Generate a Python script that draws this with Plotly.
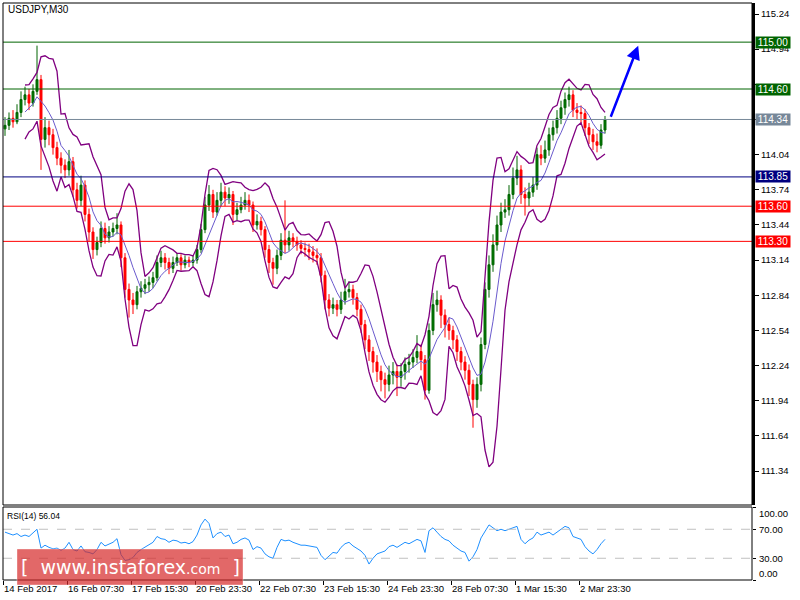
import plotly.graph_objects as go
import pandas as pd

# ---------------- data ----------------
symbol_title = "USDJPY,M30"
first_open = 114.26
closes = [114.29, 114.35, 114.32, 114.40, 114.51, 114.55, 114.48, 114.58, 114.68, 114.17,
          114.27, 114.21, 114.10, 114.01, 113.95, 113.91, 113.98, 113.74, 113.65, 113.78,
          113.53, 113.38, 113.23, 113.29, 113.41, 113.33, 113.38, 113.41, 113.44, 113.16,
          112.89, 112.80, 112.76, 112.87, 112.90, 112.93, 112.95, 112.99, 113.12, 113.16,
          113.12, 113.07, 113.12, 113.16, 113.10, 113.14, 113.12, 113.14, 113.23, 113.40,
          113.61, 113.70, 113.55, 113.65, 113.72, 113.67, 113.70, 113.53, 113.57, 113.61,
          113.65, 113.61, 113.44, 113.47, 113.40, 113.23, 113.12, 113.07, 113.18, 113.31,
          113.27, 113.33, 113.30, 113.27, 113.24, 113.23, 113.21, 113.18, 113.16, 113.01,
          112.80, 112.73, 112.76, 112.72, 112.80, 112.87, 112.89, 112.82, 112.72, 112.59,
          112.46, 112.36, 112.27, 112.19, 112.12, 112.08, 112.16, 112.19, 112.14, 112.19,
          112.25, 112.27, 112.31, 112.36, 112.29, 112.03, 112.54, 112.76, 112.80, 112.67,
          112.59, 112.54, 112.46, 112.36, 112.27, 112.20, 112.08, 111.95, 112.08, 112.42,
          112.89, 113.10, 113.27, 113.44, 113.55, 113.57, 113.70, 113.84, 113.91, 113.70,
          113.67, 113.72, 113.78, 114.04, 114.01, 114.08, 114.21, 114.27, 114.35, 114.44,
          114.51, 114.55, 114.42, 114.40, 114.39, 114.27, 114.21, 114.15, 114.12, 114.25,
          114.34]
highs = [114.36, 114.40, 114.42, 114.47, 114.58, 114.62, 114.60, 114.64, 114.97, 114.72,
         114.36, 114.33, 114.26, 114.15, 114.06, 114.00, 114.08, 114.02, 113.80, 113.86,
         113.82, 113.58, 113.42, 113.34, 113.47, 113.46, 113.43, 113.46, 113.54, 113.47,
         113.20, 112.94, 112.86, 112.92, 112.96, 112.98, 113.00, 113.04, 113.18, 113.22,
         113.20, 113.16, 113.17, 113.20, 113.19, 113.18, 113.17, 113.18, 113.27, 113.45,
         113.68, 113.78, 113.74, 113.72, 113.80, 113.77, 113.76, 113.73, 113.63, 113.68,
         113.72, 113.70, 113.64, 113.53, 113.51, 113.43, 113.27, 113.16, 113.23, 113.37,
         113.65, 113.39, 113.37, 113.34, 113.31, 113.29, 113.28, 113.26, 113.24, 113.20,
         113.05, 112.85, 112.82, 112.80, 112.87, 112.98, 112.96, 112.93, 112.86, 112.76,
         112.63, 112.50, 112.40, 112.33, 112.24, 112.18, 112.24, 112.27, 112.25, 112.26,
         112.31, 112.34, 112.38, 112.50, 112.42, 112.33, 112.60, 112.86, 112.88, 112.84,
         112.72, 112.65, 112.58, 112.50, 112.40, 112.32, 112.25, 112.12, 112.14, 112.48,
         112.95, 113.18, 113.36, 113.52, 113.63, 113.66, 113.78, 113.93, 114.03, 113.95,
         113.76, 113.80, 113.85, 114.10, 114.12, 114.16, 114.27, 114.33, 114.42, 114.50,
         114.57, 114.62, 114.59, 114.48, 114.46, 114.43, 114.31, 114.26, 114.22, 114.30,
         114.37]
lows = [114.20, 114.25, 114.27, 114.30, 114.36, 114.46, 114.42, 114.45, 114.55, 113.91,
        114.10, 114.12, 114.04, 113.95, 113.88, 113.84, 113.86, 113.68, 113.58, 113.60,
        113.47, 113.30, 113.15, 113.18, 113.25, 113.28, 113.29, 113.34, 113.36, 113.08,
        112.82, 112.65, 112.68, 112.72, 112.82, 112.85, 112.87, 112.90, 112.96, 113.08,
        113.06, 113.02, 113.03, 113.09, 113.05, 113.07, 113.08, 113.09, 113.11, 113.20,
        113.37, 113.56, 113.50, 113.52, 113.60, 113.60, 113.62, 113.44, 113.48, 113.54,
        113.57, 113.55, 113.38, 113.40, 113.35, 113.16, 113.03, 112.93, 113.02, 113.14,
        113.20, 113.22, 113.25, 113.22, 113.19, 113.17, 113.14, 113.12, 113.10, 112.95,
        112.72, 112.66, 112.68, 112.66, 112.68, 112.76, 112.82, 112.76, 112.66, 112.52,
        112.38, 112.28, 112.18, 112.10, 112.02, 111.96, 112.02, 112.08, 111.98, 112.06,
        112.12, 112.18, 112.22, 112.26, 112.20, 111.95, 112.00, 112.50, 112.70, 112.56,
        112.48, 112.46, 112.38, 112.28, 112.20, 112.12, 111.98, 111.71, 111.88, 112.02,
        112.38, 112.82, 113.04, 113.22, 113.38, 113.50, 113.52, 113.66, 113.78, 113.62,
        113.52, 113.60, 113.68, 113.74, 113.95, 113.97, 114.03, 114.16, 114.22, 114.30,
        114.38, 114.45, 114.36, 114.34, 114.31, 114.20, 114.13, 114.08, 114.06, 114.09,
        114.22]
rsi_values = [66, 64, 62, 64, 60, 62, 60, 65, 70, 44,
              48, 45, 43, 44, 41, 44, 52, 42, 40, 47,
              39, 38, 36, 42, 52, 47, 50, 52, 57, 35,
              27, 28, 31, 38, 42, 45, 48, 52, 60, 57,
              56, 52, 55, 54, 51, 52, 50, 53, 62, 76,
              84, 78, 58, 64, 66, 60, 62, 50, 52, 56,
              58, 55, 42, 46, 44, 36, 32, 30, 45, 56,
              54, 55, 52, 50, 48, 48, 47, 46, 45, 34,
              28, 33, 38, 37, 45, 50, 52, 47, 44, 40,
              34, 22, 30, 36, 38, 40, 46, 48, 45, 48,
              52, 50, 53, 56, 54, 38, 68, 72, 66, 60,
              56, 54, 48, 44, 40, 38, 26, 32, 42, 58,
              68, 76, 72, 68, 70, 68, 70, 72, 74, 56,
              50, 55, 58, 66, 62, 64, 66, 62, 66, 70,
              74, 72, 60, 58, 56, 46, 40, 36, 42, 50,
              56.04]

levels = [115.00, 114.60, 114.34, 113.85, 113.60, 113.30]
level_colors = ["#006400", "#006400", "#778899", "#000080", "#ff0000", "#ff0000"]
price_ticks = [115.24, 114.94, 114.64, 114.34, 114.04, 113.74, 113.44, 113.14,
               112.84, 112.54, 112.24, 111.94, 111.64, 111.34]
rsi_ticks = [100, 70, 30, 0]
time_labels = ["14 Feb 2017", "16 Feb 07:30", "17 Feb 15:30", "20 Feb 23:30", "22 Feb 07:30",
               "23 Feb 15:30", "24 Feb 23:30", "28 Feb 07:30", "1 Mar 15:30", "2 Mar 23:30"]
time_label_bars = [-0.5, 15.5, 31.5, 47.5, 63.5, 79.5, 95.5, 111.5, 127.5, 143.5]
arrow_start = (151.3, 114.35)
arrow_end = (158.3, 114.97)
bb_period = 6
bb_dev = 2.4

# ---------------- derived ----------------
bars = list(range(len(closes)))
opens = [first_open] + closes[:-1]
s = pd.Series(closes)
bb_mid = s.rolling(bb_period).mean()
bb_sd = s.rolling(bb_period).std(ddof=0)
bb_up = bb_mid + bb_dev * bb_sd
bb_lo = bb_mid - bb_dev * bb_sd

# tick labels that sit completely under a level price box are hidden (as in the original)
price_ticktext = [("" if any(abs(v - lv) < 0.045 for lv in levels) else f"{v:.2f}") for v in price_ticks]

W, H = 800, 600
def px(xp):
    return xp / W
def py(yp):
    return 1 - yp / H

X_LEFT, X_RIGHT = 3, 752
MAIN_TOP, MAIN_BOT = 3, 505
RSI_TOP, RSI_BOT = 507.5, 580

FONT = "Liberation Sans, Arial, sans-serif"

fig = go.Figure()

fig.add_trace(go.Scatter(x=bars, y=bb_up, mode="lines", line=dict(color="#800080", width=1.3),
                         hoverinfo="skip", xaxis="x", yaxis="y"))
fig.add_trace(go.Scatter(x=bars, y=bb_lo, mode="lines", line=dict(color="#800080", width=1.3),
                         hoverinfo="skip", xaxis="x", yaxis="y"))
fig.add_trace(go.Candlestick(x=bars, open=opens, high=highs, low=lows, close=closes,
                             increasing=dict(line=dict(color="#006400", width=1), fillcolor="#007a00"),
                             decreasing=dict(line=dict(color="#ff0000", width=1), fillcolor="#ff0000"),
                             whiskerwidth=0, xaxis="x", yaxis="y"))
fig.add_trace(go.Scatter(x=bars, y=bb_mid, mode="lines", line=dict(color="#6a5acd", width=1),
                         hoverinfo="skip", xaxis="x", yaxis="y"))

fig.add_trace(go.Scatter(x=bars, y=rsi_values, mode="lines", line=dict(color="#1e90ff", width=1),
                         hoverinfo="skip", xaxis="x2", yaxis="y2"))

shapes = []
annotations = []

# level lines + price labels
for lv, col in zip(levels, level_colors):
    shapes.append(dict(type="line", xref="paper", yref="y", x0=px(X_LEFT), x1=px(X_RIGHT),
                       y0=lv, y1=lv, line=dict(color=col, width=1)))
    annotations.append(dict(xref="paper", yref="y", x=px(755), y=lv, xanchor="left", yanchor="middle",
                            text=f"{lv:.2f}", showarrow=False, bgcolor=col, borderpad=0,
                            width=34, height=11, align="center",
                            font=dict(family=FONT, size=10, color="white")))

# RSI dashed levels
for lv in (70, 30):
    shapes.append(dict(type="line", xref="paper", yref="y2", x0=px(X_LEFT), x1=px(X_RIGHT),
                       y0=lv, y1=lv, line=dict(color="#c0c0c0", width=1, dash="dash")))

# frames
shapes.append(dict(type="rect", xref="paper", yref="paper", x0=px(X_LEFT), x1=px(X_RIGHT),
                   y0=py(MAIN_BOT), y1=py(MAIN_TOP), line=dict(color="black", width=1)))
shapes.append(dict(type="rect", xref="paper", yref="paper", x0=px(X_LEFT), x1=px(X_RIGHT),
                   y0=py(RSI_BOT), y1=py(RSI_TOP - 0.5), line=dict(color="black", width=1)))

# RSI axis labels (top and bottom labels nudged inside the panel, as in the original)
rsi_label_shift = {100: -6, 70: 0, 30: 0, 0: 7}
for v in rsi_ticks:
    annotations.append(dict(xref="paper", yref="y2", x=px(757), y=v, xanchor="left", yanchor="middle",
                            yshift=rsi_label_shift[v],
                            text=f"{v:.2f}", showarrow=False,
                            font=dict(family=FONT, size=9.5, color="black")))

# time labels
for lab, b in zip(time_labels, time_label_bars):
    annotations.append(dict(xref="x2", yref="paper", x=b, y=py(588), xanchor="left", yanchor="middle",
                            text=lab, showarrow=False, xshift=-1,
                            font=dict(family=FONT, size=9.5, color="black")))

# titles
annotations.append(dict(xref="paper", yref="paper", x=px(6), y=py(9), xanchor="left", yanchor="middle",
                        text=symbol_title, showarrow=False, font=dict(family=FONT, size=10, color="black")))
annotations.append(dict(xref="paper", yref="paper", x=px(5), y=py(516), xanchor="left", yanchor="middle",
                        text=f"RSI(14) {rsi_values[-1]:.2f}", showarrow=False,
                        font=dict(family=FONT, size=8.5, color="black")))

# forecast arrow
annotations.append(dict(xref="x", yref="y", axref="x", ayref="y", x=arrow_end[0], y=arrow_end[1],
                        ax=arrow_start[0], ay=arrow_start[1], text="", showarrow=True,
                        arrowhead=2, arrowsize=1.1, arrowwidth=2.5, arrowcolor="#0000ff"))

# watermark
shapes.append(dict(type="rect", xref="paper", yref="paper", x0=px(17), x1=px(243), y0=py(585), y1=py(549),
                   fillcolor="rgba(214,40,40,0.70)", line=dict(color="rgba(255,255,255,0.35)", width=1),
                   layer="above"))
annotations.append(dict(xref="paper", yref="paper", x=px(130), y=py(567), xanchor="center", yanchor="middle",
                        text="[  www.instaforex<span style='font-size:14px'>.com</span>  ]", showarrow=False,
                        font=dict(family="DejaVu Sans, sans-serif", size=19, color="white")))

y_main_range = [115.24 - (MAIN_BOT - 14) / 117.2, 115.24 + (14 - MAIN_TOP) / 117.2]
x_range = [-0.5, -0.5 + (X_RIGHT - X_LEFT) / 4.0]

fig.update_layout(
    width=W, height=H, margin=dict(l=0, r=0, t=0, b=0),
    paper_bgcolor="white", plot_bgcolor="white", showlegend=False,
    shapes=shapes, annotations=annotations,
    xaxis=dict(domain=[px(X_LEFT), px(X_RIGHT)], range=x_range, showgrid=False, zeroline=False,
               showticklabels=False, ticks="", rangeslider=dict(visible=False), anchor="y", fixedrange=True),
    yaxis=dict(domain=[py(MAIN_BOT), py(MAIN_TOP)], range=y_main_range, side="right", anchor="x",
               showgrid=False, zeroline=False, tickmode="array", tickvals=price_ticks,
               ticktext=price_ticktext, ticks="outside", ticklen=4, tickcolor="black",
               showline=True, linewidth=3, linecolor="black",
               tickfont=dict(family=FONT, size=9.5, color="black")),
    xaxis2=dict(domain=[px(X_LEFT), px(X_RIGHT)], range=x_range, showgrid=False, zeroline=False,
                anchor="y2", matches="x", tickmode="array", tickvals=time_label_bars,
                ticktext=["" for _ in time_labels], ticks="outside", ticklen=4, tickcolor="black"),
    yaxis2=dict(domain=[py(RSI_BOT), py(RSI_TOP)], range=[0, 100], side="right", anchor="x2",
                showgrid=False, zeroline=False, tickmode="array", tickvals=rsi_ticks,
                showticklabels=False, ticks="outside", ticklen=3, tickcolor="black"),
)

fig.write_html("out.html", config={"displayModeBar": False},
               post_script="document.body.style.margin='0';document.body.style.padding='0';"
                           "document.body.style.overflow='hidden';")
